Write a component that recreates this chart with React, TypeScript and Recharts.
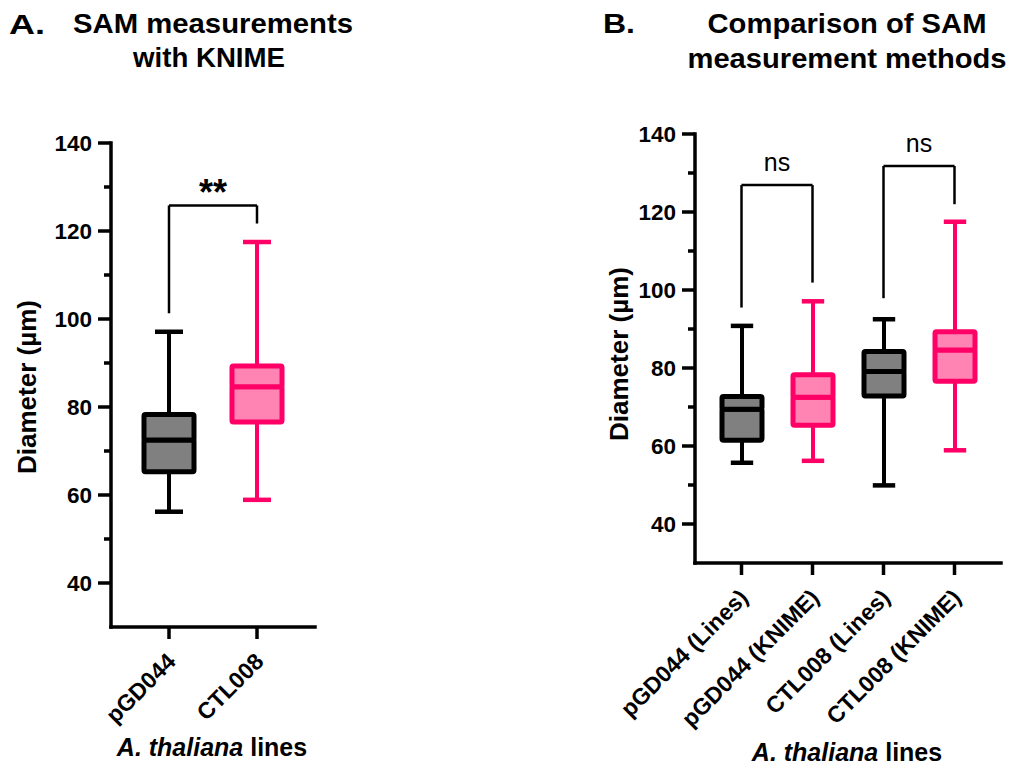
import React from 'react';
import { ComposedChart, Bar, XAxis, YAxis, ReferenceLine } from 'recharts';

const FONT = '"Liberation Sans", Arial, Helvetica, sans-serif';

// ---------- Panel A data ----------
const categoriesA = ['pGD044', 'CTL008'];
const minA = [56.2, 58.9];
const q1A = [65.3, 76.6];
const medianA = [72.5, 84.6];
const q3A = [78.3, 89.3];
const maxA = [97.1, 117.5];

// ---------- Panel B data ----------
const categoriesB = ['pGD044 (Lines)', 'pGD044 (KNIME)', 'CTL008 (Lines)', 'CTL008 (KNIME)'];
const minB = [55.7, 56.2, 49.9, 58.9];
const q1B = [61.5, 65.3, 72.8, 76.6];
const medianB = [69.4, 72.5, 79.1, 84.6];
const q3B = [72.7, 78.3, 84.2, 89.3];
const maxB = [90.8, 97.1, 92.5, 117.5];

// ---------- axis ticks ----------
const yTicks = [40, 50, 60, 70, 80, 90, 100, 110, 120, 130, 140];
const yLabelTicks = [40, 60, 80, 100, 120, 140];
const yDomain = [30, 140];

// ---------- significance brackets: [leftCat, rightCat, top, leftEnd, rightEnd, text] ----------
const bracketsA = [['pGD044', 'CTL008', 125.8, 101.3, 121.7, '**']];
const bracketsB = [
  ['pGD044 (Lines)', 'pGD044 (KNIME)', 126.9, 95.5, 101.9, 'ns'],
  ['CTL008 (Lines)', 'CTL008 (KNIME)', 131.8, 97.9, 122.0, 'ns'],
];

// ---------- styles ----------
const BLACK = '#000000';
const PINK = '#FF0066';
const strokeA = [BLACK, PINK];
const fillA = ['#808080', '#FF84B3'];
const strokeB = [BLACK, PINK, BLACK, PINK];
const fillB = ['#808080', '#FF84B3', '#808080', '#FF84B3'];

function buildRows(cats: string[], mn: number[], q1: number[], md: number[], q3: number[], mx: number[]) {
  return cats.map((c, i) => ({
    name: c,
    base: mn[i],
    lowWhisker: q1[i] - mn[i],
    lowBox: md[i] - q1[i],
    highBox: q3[i] - md[i],
    highWhisker: mx[i] - q3[i],
  }));
}

const rowsA = buildRows(categoriesA, minA, q1A, medianA, q3A, maxA);
const rowsB = buildRows(categoriesB, minB, q1B, medianB, q3B, maxB);

const makeWhisker = (colors: string[], pos: 'low' | 'high') => (props: any) => {
  const { x, y, width, height, index } = props;
  const c = colors[index];
  const cx = x + width / 2;
  const capY = pos === 'low' ? y + height : y;
  const cap = width * 0.56;
  return (
    <g>
      <line x1={cx} x2={cx} y1={y} y2={y + height} stroke={c} strokeWidth={4} />
      <line x1={cx - cap / 2} x2={cx + cap / 2} y1={capY} y2={capY} stroke={c} strokeWidth={4.5} />
    </g>
  );
};

const makeBox = (colors: string[], fills: string[]) => (props: any) => {
  const { x, y, width, height, index } = props;
  return (
    <rect
      x={x}
      y={y}
      width={width}
      height={height}
      rx={1.5}
      fill={fills[index]}
      stroke={colors[index]}
      strokeWidth={5}
    />
  );
};

const YTick = (props: any) => {
  const { x, y, payload } = props;
  const v = payload.value;
  const major = yLabelTicks.includes(v);
  return (
    <g>
      <line x1={x} x2={x - (major ? 13 : 7)} y1={y} y2={y} stroke={BLACK} strokeWidth={3.5} />
      {major && (
        <text
          x={x - 19}
          y={y}
          dy="0.36em"
          textAnchor="end"
          fontFamily={FONT}
          fontWeight="bold"
          fontSize={22.5}
          fill={BLACK}
        >
          {v}
        </text>
      )}
    </g>
  );
};

const XTick = (props: any) => {
  const { x, y, payload } = props;
  const tx = x + 8;
  const ty = y + 36;
  return (
    <g>
      <line x1={x} x2={x} y1={y} y2={y + 12} stroke={BLACK} strokeWidth={3.5} />
      <text
        x={tx}
        y={ty}
        textAnchor="end"
        transform={`rotate(-45 ${tx} ${ty})`}
        fontFamily={FONT}
        fontWeight="bold"
        fontSize={23}
        fill={BLACK}
      >
        {payload.value}
      </text>
    </g>
  );
};

function Brackets(list: any[], fontSize: number, bold: boolean, offset: number) {
  const out: any[] = [];
  list.forEach((b, i) => {
    const [l, r, top, le, re, text] = b;
    out.push(
      <ReferenceLine
        key={`h${i}`}
        segment={[{ x: l, y: top }, { x: r, y: top }]}
        stroke={BLACK}
        strokeWidth={2.5}
        label={{
          value: text,
          position: 'top',
          offset,
          fontSize,
          fontWeight: bold ? 'bold' : 'normal',
          fontFamily: FONT,
          fill: BLACK,
        }}
      />
    );
    out.push(
      <ReferenceLine key={`l${i}`} segment={[{ x: l, y: le }, { x: l, y: top }]} stroke={BLACK} strokeWidth={2.5} />
    );
    out.push(
      <ReferenceLine key={`r${i}`} segment={[{ x: r, y: re }, { x: r, y: top }]} stroke={BLACK} strokeWidth={2.5} />
    );
  });
  return out;
}

function BoxChart(props: {
  rows: any[];
  width: number;
  height: number;
  margin: any;
  barSize: number;
  pad: number;
  strokes: string[];
  fills: string[];
  xAxisHeight: number;
  brackets: any[];
}) {
  const { rows, width, height, margin, barSize, pad, strokes, fills, xAxisHeight } = props;
  return (
    <ComposedChart width={width} height={height} data={rows} margin={margin} barSize={barSize}>
      <XAxis
        dataKey="name"
        type="category"
        interval={0}
        padding={{ left: pad, right: pad }}
        tickLine={false}
        tickSize={0}
        tickMargin={0}
        tick={<XTick />}
        height={xAxisHeight}
        axisLine={{ stroke: BLACK, strokeWidth: 3.5, strokeLinecap: 'square' }}
      />
      <YAxis
        type="number"
        domain={yDomain}
        ticks={yTicks}
        interval={0}
        allowDataOverflow
        tickLine={false}
        tickSize={0}
        tickMargin={0}
        tick={<YTick />}
        width={60}
        axisLine={{ stroke: BLACK, strokeWidth: 3.5, strokeLinecap: 'square' }}
      />
      <Bar dataKey="base" stackId="s" fill="none" isAnimationActive={false} shape={() => <g />} />
      <Bar dataKey="lowWhisker" stackId="s" isAnimationActive={false} shape={makeWhisker(strokes, 'low')} />
      <Bar dataKey="lowBox" stackId="s" isAnimationActive={false} shape={makeBox(strokes, fills)} />
      <Bar dataKey="highBox" stackId="s" isAnimationActive={false} shape={makeBox(strokes, fills)} />
      <Bar dataKey="highWhisker" stackId="s" isAnimationActive={false} shape={makeWhisker(strokes, 'high')} />
      {props.brackets}
    </ComposedChart>
  );
}

export default function App() {
  const titleStyle = { fontFamily: FONT, fontWeight: 'bold' as const, fill: BLACK };
  return (
    <div style={{ position: 'absolute', left: 0, top: 0, width: 1012, height: 767, background: '#fff', overflow: 'hidden' }}>
      <div style={{ position: 'absolute', left: 0, top: 0 }}>
        <BoxChart
          rows={rowsA}
          width={330}
          height={767}
          margin={{ top: 143, right: 15, bottom: 40, left: 51 }}
          barSize={50}
          pad={14}
          strokes={strokeA}
          fills={fillA}
          xAxisHeight={100}
          brackets={Brackets(bracketsA, 36, true, 0)}
        />
      </div>
      <div style={{ position: 'absolute', left: 560, top: 0 }}>
        <BoxChart
          rows={rowsB}
          width={452}
          height={767}
          margin={{ top: 134, right: 11, bottom: 54, left: 75 }}
          barSize={40}
          pad={11}
          strokes={strokeB}
          fills={fillB}
          xAxisHeight={150}
          brackets={Brackets(bracketsB, 25, false, 14)}
        />
      </div>
      <svg
        width={1012}
        height={767}
        style={{ position: 'absolute', left: 0, top: 0, pointerEvents: 'none' }}
      >
        {/* Panel A titles */}
        <text x={9} y={34} fontSize={27} textLength={36} lengthAdjust="spacingAndGlyphs" {...titleStyle}>A.</text>
        <text x={213} y={33} fontSize={27} textAnchor="middle" textLength={280} lengthAdjust="spacingAndGlyphs" {...titleStyle}>SAM measurements</text>
        <text x={209} y={67} fontSize={27} textAnchor="middle" textLength={152} lengthAdjust="spacingAndGlyphs" {...titleStyle}>with KNIME</text>
        {/* Panel B titles */}
        <text x={603} y={33} fontSize={27} textLength={32} lengthAdjust="spacingAndGlyphs" {...titleStyle}>B.</text>
        <text x={847} y={33} fontSize={27} textAnchor="middle" textLength={279} lengthAdjust="spacingAndGlyphs" {...titleStyle}>Comparison of SAM</text>
        <text x={847} y={68} fontSize={27} textAnchor="middle" textLength={319} lengthAdjust="spacingAndGlyphs" {...titleStyle}>measurement methods</text>
        {/* Y axis titles */}
        <text x={36} y={387} fontSize={26} textAnchor="middle" transform="rotate(-90 36 387)" {...titleStyle}>Diameter (µm)</text>
        <text x={628} y={354} fontSize={26} textAnchor="middle" transform="rotate(-90 628 354)" {...titleStyle}>Diameter (µm)</text>
        {/* X axis titles */}
        <text x={212} y={756} fontSize={25} textAnchor="middle" {...titleStyle}>
          <tspan fontStyle="italic">A. thaliana</tspan> lines
        </text>
        <text x={847} y={761} fontSize={25} textAnchor="middle" {...titleStyle}>
          <tspan fontStyle="italic">A. thaliana</tspan> lines
        </text>
      </svg>
    </div>
  );
}
